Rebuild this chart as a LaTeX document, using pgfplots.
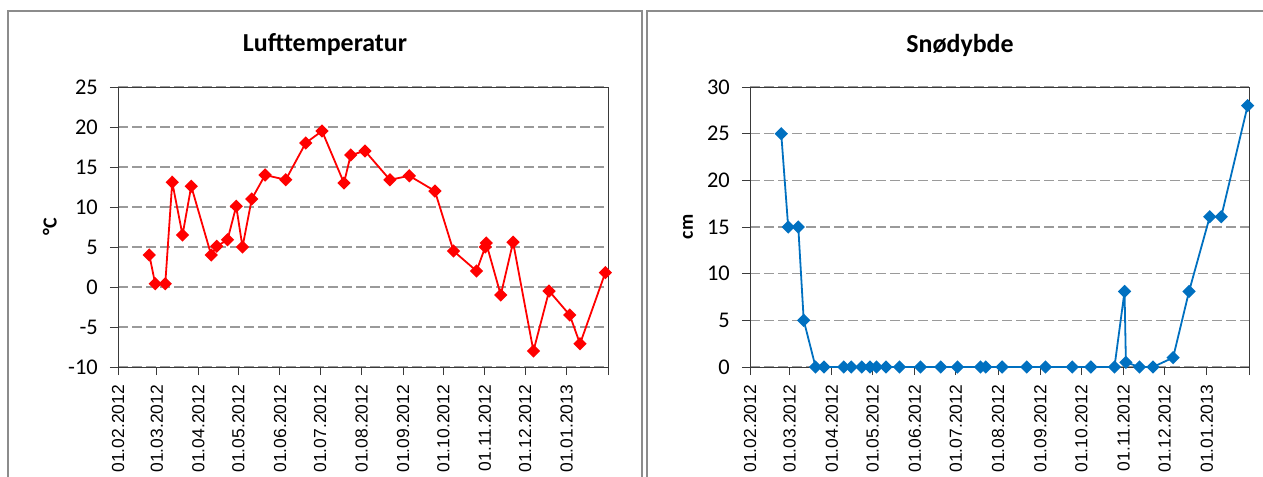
\documentclass[border=0pt]{standalone}
\usepackage{fontspec}
\usepackage{pgfplots}
\pgfplotsset{compat=1.18}
\setmainfont{Carlito}
\newfontfamily\arialf{Liberation Sans}

\definecolor{framegray}{HTML}{8C8C8C}
\definecolor{gridgray}{HTML}{9A9A9A}
\definecolor{axisgray}{HTML}{3A3A3A}
\definecolor{snowblue}{HTML}{0070C0}

% day 0 = 01.02.2012
\pgfplotsset{
  monthaxis/.style={
    scale only axis,
    height=280bp,
    xmin=0, xmax=366,
    xtick={0,29,60,90,121,151,182,213,243,274,304,335,366},
    xticklabels={01.02.2012,01.03.2012,01.04.2012,01.05.2012,01.06.2012,01.07.2012,01.08.2012,01.09.2012,01.10.2012,01.11.2012,01.12.2012,01.01.2013,},
    xticklabel style={rotate=90, anchor=east, font=\arialf\fontsize{17.5}{20}\selectfont, inner sep=2bp},
    xticklabel shift=8bp,
    yticklabel style={font=\fontsize{22.5}{26}\selectfont, inner sep=2bp},
    yticklabel shift=10bp,
    /pgf/number format/assume math mode=true,
    tick align=outside,
    major tick length=8bp,
    xtick pos=lower, ytick pos=left,
    axis line style={axisgray, line width=1bp},
    tick style={axisgray, line width=1bp},
    ymajorgrids,
    major grid style={gridgray, line width=1.2bp, dash pattern=on 10bp off 4bp},
    ylabel style={rotate=0, font=\bfseries\fontsize{20}{24}\selectfont},
    clip=false,
  },
  diamondmark/.style={mark=square*, mark size=3.8bp, mark options={solid, rotate=45}},
}

\begin{document}
\begin{tikzpicture}[x=1bp,y=1bp]
\path[use as bounding box, clip] (0,0) rectangle (1263,-477);

% chart frames
\draw[framegray, line width=1.5bp] (8,-490) -- (8,-11) -- (642,-11) -- (642,-490);
\draw[framegray, line width=1.5bp] (647,-490) -- (647,-11) -- (1290,-11) -- (1290,-490);

% titles
\node[font=\bfseries\fontsize{26}{30}\selectfont] at (325,-45) {Lufttemperatur};
\node[font=\bfseries\fontsize{26}{30}\selectfont] at (960,-45) {Snødybde};

% air temperature
\begin{axis}[monthaxis,
  at={(118bp,-367bp)}, anchor=south west,
  width=490bp,
  ymin=-10, ymax=25, ytick={-10,-5,...,25},
  ylabel={°C},
  ylabel style={at={(axis description cs:-0.139,0.5)}, anchor=center},
]
\addplot[red, line width=1.8bp, diamondmark] coordinates {
(23.4,4.0) (27.8,0.4) (35.3,0.4) (40.5,13.1) (48.2,6.5) (54.7,12.6)
(69.6,4.0) (73.8,5.1) (81.8,5.9) (88.3,10.1) (93.0,5.0) (99.9,11.0)
(109.9,14.0) (125.3,13.4) (140.2,18.0) (152.4,19.5) (168.8,13.0) (173.8,16.5)
(184.5,17.0) (203.1,13.4) (217.6,13.9) (236.7,12.0) (250.6,4.5) (267.8,2.0)
(274.3,5.0) (275.0,5.5) (285.9,-1.0) (295.1,5.6) (310.3,-8.0) (322.0,-0.5)
(337.4,-3.5) (345.1,-7.1) (364.0,1.8)
};
\end{axis}

% snow depth
\begin{axis}[monthaxis,
  at={(750bp,-367bp)}, anchor=south west,
  width=499bp,
  ymin=0, ymax=30, ytick={0,5,...,30},
  ylabel={cm},
  ylabel style={at={(axis description cs:-0.124,0.5)}, anchor=center},
]
\addplot[snowblue, line width=1.8bp, diamondmark] coordinates {
(22.9,25) (28.0,15) (35.4,15) (39.4,5) (48.1,0) (54.2,0)
(68.7,0) (74.3,0) (81.9,0) (88.0,0) (92.8,0) (99.7,0)
(109.6,0) (125.1,0) (139.9,0) (152.1,0) (169.1,0) (172.9,0)
(184.9,0) (202.9,0) (216.7,0) (236.3,0) (250.0,0) (267.3,0)
(274.7,8.1) (275.7,0.5) (285.6,0) (295.5,0) (310.3,1.0) (322.0,8.1)
(337.2,16.1) (345.6,16.1) (365.0,28.0)
};
\end{axis}
\end{tikzpicture}
\end{document}
